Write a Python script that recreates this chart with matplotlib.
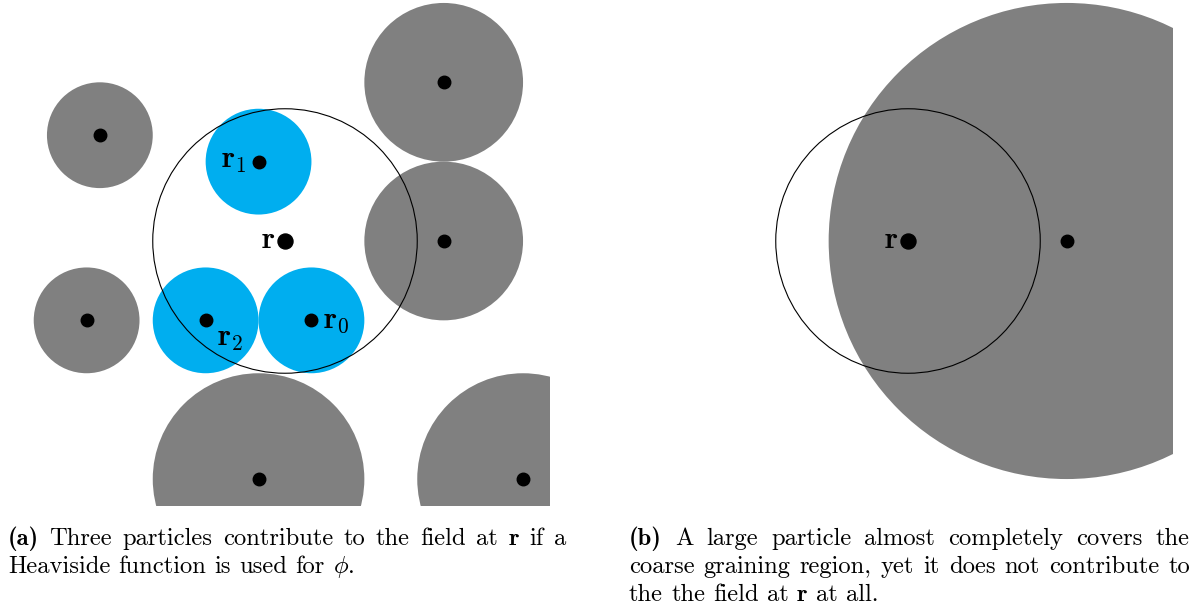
import matplotlib
matplotlib.use("Agg")
import matplotlib.pyplot as plt
from matplotlib.patches import Circle

plt.rcParams['mathtext.fontset'] = 'cm'

W, H, DPI = 1197, 607, 100
U = 26.45          # pixels per lattice unit
GRAY = '#808080'
CYAN = '#00AEEF'

# ---- panel (a): particles around the field point r = (0, 0) ----
a_x = [-1, 1, -3, -7, 6, 6, -7.5, -1, 9]
a_y = [3, -3, -3, 4, 6, 0, -3, -9, -9]
a_r = [2, 2, 2, 2, 3, 3, 2, 4, 4]
a_inside = [True, True, True, False, False, False, False, False, False]
a_labels = [r'$\mathbf{r}_1$', r'$\mathbf{r}_0$', r'$\mathbf{r}_2$']

# ---- panel (b): one large particle ----
b_x = [6]
b_y = [0]
b_r = [9]

cg_radius = 5      # coarse-graining radius

fig = plt.figure(figsize=(W / DPI, H / DPI), dpi=DPI)


def panel_axes(cx, cy, xlim, ylim):
    left = cx + xlim[0] * U
    right = cx + xlim[1] * U
    top = cy - ylim[1] * U
    bottom = cy - ylim[0] * U
    ax = fig.add_axes([left / W, 1 - bottom / H, (right - left) / W, (bottom - top) / H])
    ax.set_xlim(xlim)
    ax.set_ylim(ylim)
    ax.axis('off')
    return ax


def field_point(ax):
    ax.add_patch(Circle((0, 0), cg_radius, fill=False, ec='black', lw=0.8, zorder=3))
    ax.plot([0], [0], 'o', ms=10.8, color='black', zorder=5)
    ax.text(-0.38, -0.27, r'$\mathbf{r}$', fontsize=22, ha='right', va='baseline', zorder=6)


# panel (a)
axa = panel_axes(285, 241, (-10.78, 10.0), (-10.0, 9.11))
for x, y, r, inside in zip(a_x, a_y, a_r, a_inside):
    axa.add_patch(Circle((x, y), r, fc=CYAN if inside else GRAY, ec='none', zorder=1))
axa.plot(a_x, a_y, 'o', ms=9, color='black', zorder=5)
field_point(axa)
label_offsets = [(-0.45, -0.23, 'right'), (0.44, -0.27, 'left'), (0.44, -0.97, 'left')]
for (dx, dy, ha), lab, x, y in zip(label_offsets, a_labels, a_x[:3], a_y[:3]):
    axa.text(x + dx, y + dy, lab, fontsize=22, ha=ha, va='baseline', zorder=6)

# panel (b)
axb = panel_axes(908, 241, (-5.2, 10.0), (-10.0, 9.11))
for x, y, r in zip(b_x, b_y, b_r):
    axb.add_patch(Circle((x, y), r, fc=GRAY, ec='none', zorder=1))
axb.plot(b_x, b_y, 'o', ms=9, color='black', zorder=5)
field_point(axb)

# ---- captions ----
cap = fig.add_axes([0, 0, 1, 1])
cap.set_xlim(0, W)
cap.set_ylim(H, 0)
cap.axis('off')
renderer = fig.canvas.get_renderer()
CAP_SIZE = 17.7
RM, BF = 'cmr10', 'cmb10'


def caption_line(words, x0, x1, y, justify):
    texts = []
    for w, fam in words:
        texts.append(cap.text(0, y, w, fontsize=CAP_SIZE, family=fam, ha='left', va='baseline'))
    widths = [t.get_window_extent(renderer).width for t in texts]
    if justify:
        gap = (x1 - x0 - sum(widths)) / (len(texts) - 1)
    else:
        gap = 0.333 * CAP_SIZE * DPI / 72
    x = x0
    for t, w in zip(texts, widths):
        t.set_x(x)
        x += w + gap


def words(s):
    out = []
    for w in s.split(' '):
        if w.startswith('*'):
            out.append((w[1:], BF))
        else:
            out.append((w, RM))
    return out


caption_line(words('*(a) Three particles contribute to the field at *r if a'), 8, 566, 545, True)
caption_line(words('Heaviside function is used for') + [(r'$\phi$.', RM)], 8, 566, 573, False)
caption_line(words('*(b) A large particle almost completely covers the'), 629, 1190, 545, True)
caption_line(words('coarse graining region, yet it does not contribute to'), 629, 1190, 573, True)
caption_line(words('the the field at *r at all.'), 629, 1190, 601, False)

fig.savefig('out.png', dpi=DPI)
